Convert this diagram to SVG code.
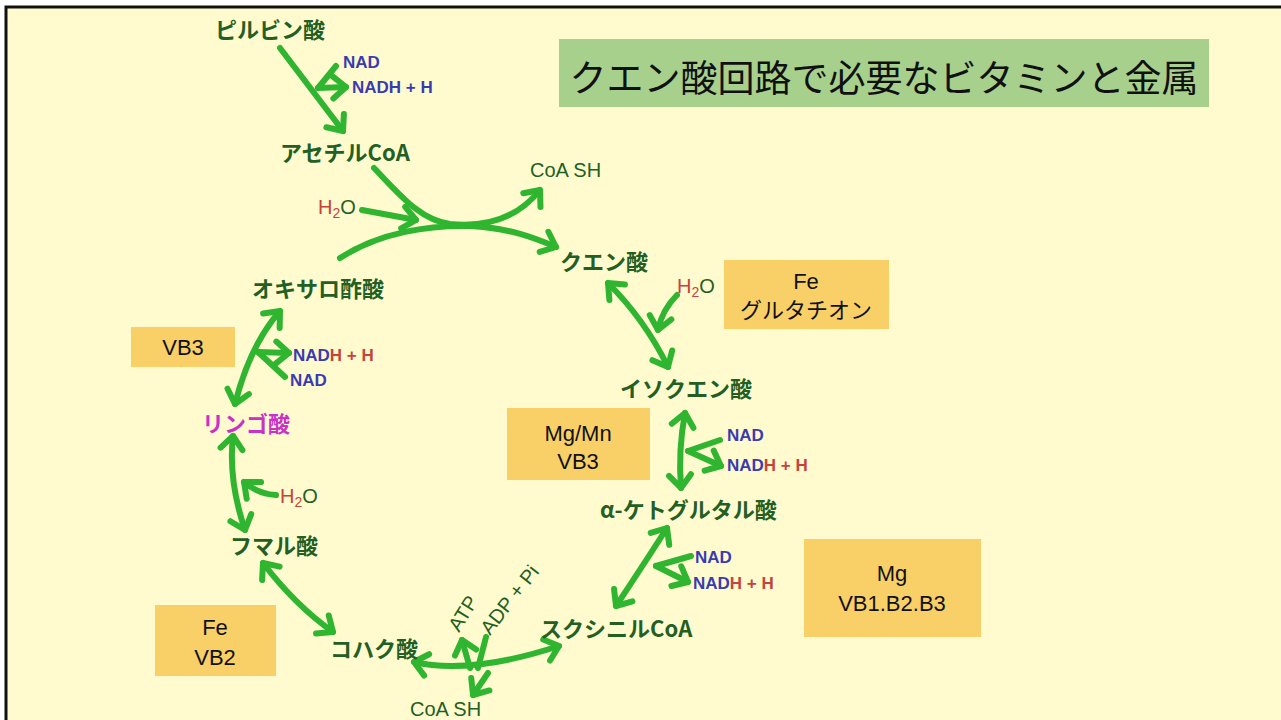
<svg xmlns="http://www.w3.org/2000/svg" width="1281" height="720" viewBox="0 0 1281 720">
<defs>
<style>
.lbl{font-family:"Noto Sans CJK JP","Noto Sans",sans-serif;font-weight:bold;font-size:22px;fill:#235f23}
.blue{font-family:"Liberation Sans",Arial,sans-serif;font-weight:bold;font-size:17px;fill:#3b3bb0}
.red{fill:#c4443c}
.reg{font-family:"Liberation Sans","Noto Sans CJK JP",sans-serif;font-size:20px;fill:#235f23}
.box{fill:#f9d067}
.bt{font-family:"Liberation Sans","Noto Sans CJK JP",sans-serif;font-size:22px;fill:#111;text-anchor:middle}
.ar{fill:none;stroke:#2fb52f;stroke-width:6;stroke-linecap:round;stroke-linejoin:round}
.ae{marker-end:url(#h)}
.ab{marker-end:url(#h);marker-start:url(#h)}
</style>
<marker id="h" markerUnits="userSpaceOnUse" viewBox="-20 -16 32 32" refX="0" refY="0" markerWidth="32" markerHeight="32" orient="auto-start-reverse">
<path d="M -13 -11 L 0 0 L -13 11" fill="none" stroke="#2fb52f" stroke-width="6" stroke-linecap="round" stroke-linejoin="round"/>
</marker>
</defs>
<rect x="0" y="0" width="1281" height="720" fill="#ffffff"/>
<rect x="5" y="7" width="1276" height="713" fill="#fffbcf"/>
<path d="M 6 720 L 6 7 L 1281 7" fill="none" stroke="#111" stroke-width="3"/>

<g id="title">
<rect x="559" y="39" width="650" height="68" fill="#a8d08d"/>
<text x="884" y="92" font-family="'Noto Sans CJK JP',sans-serif" font-size="37" fill="#111" text-anchor="middle">クエン酸回路で必要なビタミンと金属</text>
</g>

<g id="connectors">
<path class="ar ae" d="M 280 48 L 343 131"/>
<path class="ar" d="M 336 66 L 318 88"/>
<path class="ar ae" d="M 318 88 L 346 87"/>
<path class="ar ae" d="M 374 168 C 400 195 420 220 450 224 C 490 228 520 215 540 190"/>
<path class="ar ae" d="M 340 258 C 380 232 430 225 470 226 C 510 228 535 238 556 247"/>
<path class="ar ae" d="M 362 210 L 416 220"/>
<path class="ar ab" d="M 608 283 Q 645 320 668 367"/>
<path class="ar ae" d="M 677 295 Q 662 310 658 330"/>
<path class="ar ab" d="M 685 413 Q 678 450 681 488"/>
<path class="ar" d="M 720 440 L 688 451"/>
<path class="ar ae" d="M 688 451 L 721 466"/>
<path class="ar ab" d="M 667 528 Q 640 570 616 606"/>
<path class="ar" d="M 691 556 L 656 566"/>
<path class="ar ae" d="M 656 566 L 688 582"/>
<path class="ar ab" d="M 414 662 Q 470 675 559 646"/>
<path class="ar ae" d="M 470 668 L 462 640"/>
<path class="ar" d="M 486 637 L 478 668"/>
<path class="ar ae" d="M 488 673 L 473 695"/>
<path class="ar ab" d="M 263 563 Q 295 605 333 632"/>
<path class="ar ab" d="M 233 436 Q 228 480 245 530"/>
<path class="ar ae" d="M 276 495 Q 258 494 244 482"/>
<path class="ar ab" d="M 280 311 Q 250 345 235 404"/>
<path class="ar" d="M 285 377 L 258 352"/>
<path class="ar ae" d="M 258 352 L 289 353"/>
</g>

<g id="pyruvate"><text class="lbl" x="215" y="38">ピルビン酸</text></g>
<g id="nad1"><text class="blue" x="343" y="68">NAD</text><text class="blue" x="352" y="93">NADH + H</text></g>
<g id="acetylcoa"><text class="lbl" x="280" y="161">アセチルCoA</text></g>
<g id="coash1"><text class="reg" x="530" y="177" font-size="21">CoA SH</text></g>
<g id="h2o1"><text class="reg" x="318" y="214"><tspan class="red">H</tspan><tspan class="red" font-size="14" dy="4">2</tspan><tspan dy="-4">O</tspan></text></g>
<g id="citrate"><text class="lbl" x="560" y="270">クエン酸</text></g>
<g id="h2o2"><text class="reg" x="677" y="293"><tspan class="red">H</tspan><tspan class="red" font-size="14" dy="4">2</tspan><tspan dy="-4">O</tspan></text></g>
<g id="oxaloacetate"><text class="lbl" x="252" y="297">オキサロ酢酸</text></g>
<g id="isocitrate"><text class="lbl" x="620" y="397">イソクエン酸</text></g>
<g id="nad2"><text class="blue" x="293" y="361">NAD<tspan class="red">H + H</tspan></text><text class="blue" x="290" y="386">NAD</text></g>
<g id="malate"><text class="lbl" x="202" y="432" style="fill:#c832c8">リンゴ酸</text></g>
<g id="nad3"><text class="blue" x="727" y="441">NAD</text><text class="blue" x="727" y="471">NAD<tspan class="red">H + H</tspan></text></g>
<g id="h2o3"><text class="reg" x="280" y="503"><tspan class="red">H</tspan><tspan class="red" font-size="14" dy="4">2</tspan><tspan dy="-4">O</tspan></text></g>
<g id="akg"><text class="lbl" x="600" y="518">α-ケトグルタル酸</text></g>
<g id="fumarate"><text class="lbl" x="230" y="554">フマル酸</text></g>
<g id="nad4"><text class="blue" x="695" y="563">NAD</text><text class="blue" x="693" y="589">NAD<tspan class="red">H + H</tspan></text></g>
<g id="succinylcoa"><text class="lbl" x="540" y="637">スクシニルCoA</text></g>
<g id="succinate"><text class="lbl" x="330" y="657">コハク酸</text></g>
<g id="atp"><text class="reg" font-size="17" transform="translate(459 633) rotate(-58)">ATP</text></g>
<g id="adp"><text class="reg" font-size="17" transform="translate(490 636) rotate(-52)">ADP + Pi</text></g>
<g id="coash2"><text class="reg" x="410" y="716" font-size="19">CoA SH</text></g>

<g id="box-fe-glutathione"><rect class="box" x="724" y="260" width="165" height="69"/><text class="bt" x="806" y="289">Fe</text><text class="bt" x="806" y="318">グルタチオン</text></g>
<g id="box-vb3"><rect class="box" x="131" y="327" width="104" height="40"/><text class="bt" x="183" y="355">VB3</text></g>
<g id="box-mgmn"><rect class="box" x="507" y="408" width="143" height="72"/><text class="bt" x="578" y="441">Mg/Mn</text><text class="bt" x="578" y="469">VB3</text></g>
<g id="box-mg"><rect class="box" x="804" y="539" width="177" height="98"/><text class="bt" x="892" y="581">Mg</text><text class="bt" x="892" y="611">VB1.B2.B3</text></g>
<g id="box-fe-vb2"><rect class="box" x="155" y="605" width="121" height="71"/><text class="bt" x="215" y="635">Fe</text><text class="bt" x="215" y="665">VB2</text></g>
</svg>
